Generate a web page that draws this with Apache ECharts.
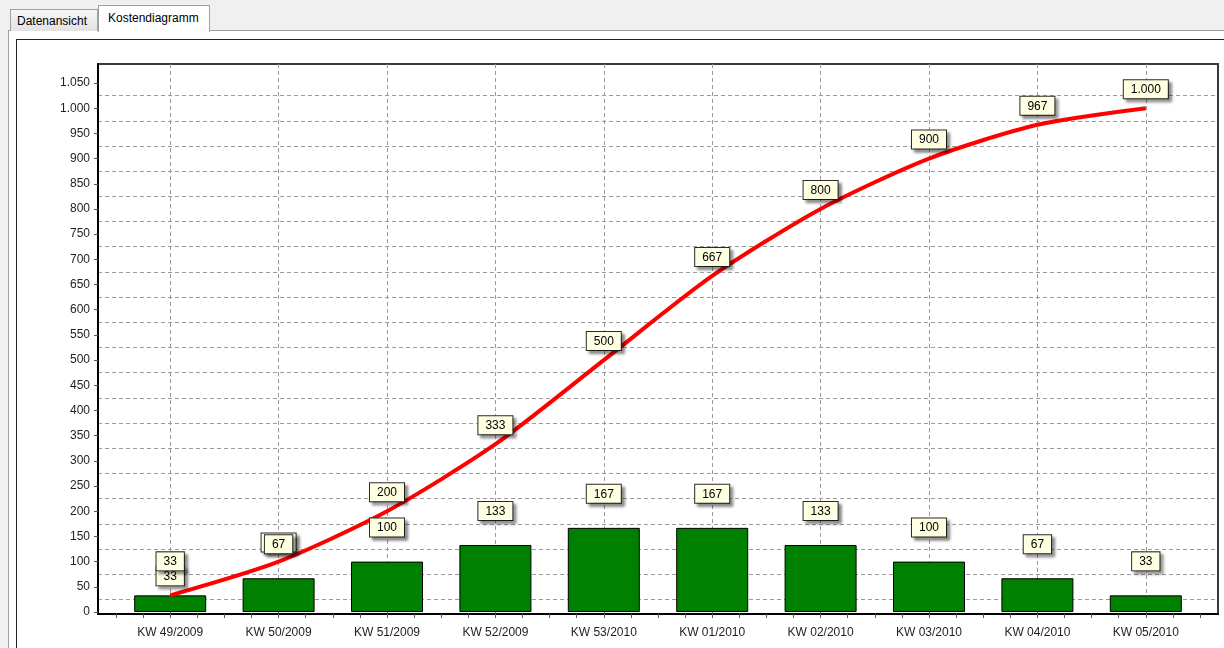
<!DOCTYPE html>
<html>
<head>
<meta charset="utf-8">
<script src="https://cdn.jsdelivr.net/npm/echarts@6/dist/echarts.min.js"></script>
<style>
  html, body { margin: 0; padding: 0; }
  #wrap { position: relative; width: 1224px; height: 648px; background: #f0f0f0; overflow: hidden; font-family: "Liberation Sans", Arial, sans-serif; }
  #panel { position: absolute; left: 8px; top: 30px; width: 1230px; height: 640px; background: #fff; border-left: 1px solid #a0a0a0; border-top: 1px solid #a0a0a0; }
  #inner { position: absolute; left: 16px; top: 39px; width: 1230px; height: 640px; background: #fff; border-left: 1px solid #222; border-top: 1px solid #222; }
  .tab { position: absolute; font-size: 12px; color: #000; box-sizing: border-box; border: 1px solid #a0a0a0; border-bottom: none; white-space: nowrap; }
  #tab1 { left: 10px; top: 9px; width: 88px; height: 22px; background: linear-gradient(#f6f6f6, #e2e2e2); padding: 4px 0 0 6px; }
  #tab2 { left: 98px; top: 5px; width: 112px; height: 27px; background: #fff; padding: 5px 0 0 9px; z-index: 2; }
  #chart { position: absolute; left: 0; top: 0; width: 1224px; height: 648px; z-index: 3; }
</style>
</head>
<body>
<div id="wrap">
  <div id="panel"></div>
  <div id="inner"></div>
  <div class="tab" id="tab1">Datenansicht</div>
  <div class="tab" id="tab2">Kostendiagramm</div>
  <div id="chart"></div>
</div>
<script>
// ---- data ----
const categories = ['KW 49/2009', 'KW 50/2009', 'KW 51/2009', 'KW 52/2009', 'KW 53/2010',
                    'KW 01/2010', 'KW 02/2010', 'KW 03/2010', 'KW 04/2010', 'KW 05/2010'];
const weeklyCosts = [33, 67, 100, 133, 167, 167, 133, 100, 67, 33];
const cumulativeCosts = [33, 100, 200, 333, 500, 667, 800, 900, 967, 1000];
const yAxisMin = 0;
const yAxisMax = 1050;
const yAxisStep = 50;

// ---- layout ----
const FRAME = { left: 98, right: 1218, top: 64, bottom: 614 };
const Y_ZERO_PX = 612, Y_TOP_PX = 83; // pixel of yAxisMin / yAxisMax
const DATA_LEFT = 116, DATA_RIGHT = 1200;
const W = 1224, H = 648;
const pxPerUnit = (Y_ZERO_PX - Y_TOP_PX) / (yAxisMax - yAxisMin);
const dataMin = yAxisMin - (FRAME.bottom - Y_ZERO_PX) / pxPerUnit;
const dataMax = yAxisMax + (Y_TOP_PX - FRAME.top) / pxPerUnit;

const FONT = '"Liberation Sans", Arial, sans-serif';
const fmt = v => String(Math.round(v)).replace(/\B(?=(\d{3})+(?!\d))/g, '.');

const boxLabel = (dist) => ({
  show: true,
  position: 'top',
  distance: dist,
  fontFamily: FONT,
  fontSize: 12,
  lineHeight: 13,
  color: '#000',
  opacity: 1,
  backgroundColor: '#ffffe1',
  borderColor: '#2a2a2a',
  borderWidth: 1,
  padding: [3, 7, 2, 7],
  shadowColor: 'rgba(0,0,0,0.45)',
  shadowBlur: 3,
  shadowOffsetX: 3,
  shadowOffsetY: 3,
  formatter: p => fmt(Array.isArray(p.value) ? p.value[1] : p.value)
});

const gridDash = { color: '#9a9a9a', type: [4, 3], width: 1 };

const chart = echarts.init(document.getElementById('chart'), null, { renderer: 'canvas' });
chart.setOption({
  animation: false,
  backgroundColor: 'transparent',
  grid: [
    { left: FRAME.left, right: W - FRAME.right, top: FRAME.top, bottom: H - FRAME.bottom,
      show: true, backgroundColor: '#fff', borderColor: '#3a3a3a', borderWidth: 2 },
    { left: FRAME.left, right: W - FRAME.right, top: Y_TOP_PX, bottom: H - Y_ZERO_PX },
    { left: DATA_LEFT, right: W - DATA_RIGHT, top: FRAME.top, bottom: H - FRAME.bottom }
  ],
  xAxis: [
    { gridIndex: 0, type: 'value', min: 0, max: 1, position: 'bottom',
      axisLine: { show: true, onZero: false, lineStyle: { color: '#000', width: 2 } },
      axisTick: { show: false }, axisLabel: { show: false }, splitLine: { show: false } },
    { gridIndex: 1, type: 'value', min: 0, max: 1, show: false },
    { gridIndex: 2, type: 'category', data: categories, boundaryGap: true, position: 'bottom',
      axisLine: { show: false },
      axisTick: { show: true, alignWithLabel: true, length: 6, lineStyle: { color: '#555' } },
      axisLabel: { margin: 13, fontFamily: FONT, fontSize: 12, color: '#1e1e1e' },
      splitLine: { show: true, alignWithLabel: true, lineStyle: gridDash } },
    { gridIndex: 2, type: 'value', min: 0, max: categories.length * 4, interval: 1,
      position: 'bottom', offset: 0,
      axisLine: { show: false, onZero: false },
      axisTick: { show: true, length: 4, lineStyle: { color: '#555' } },
      axisLabel: { show: false }, splitLine: { show: false } }
  ],
  yAxis: [
    { gridIndex: 0, type: 'value', min: 0, max: 1, position: 'left',
      axisLine: { show: true, onZero: false, lineStyle: { color: '#000', width: 2 } },
      axisTick: { show: false }, axisLabel: { show: false }, splitLine: { show: false } },
    { gridIndex: 1, type: 'value', min: yAxisMin, max: yAxisMax, interval: yAxisStep, position: 'left',
      axisLine: { show: false },
      axisTick: { show: true, length: 4, lineStyle: { color: '#555' } },
      axisLabel: { margin: 8, fontFamily: FONT, fontSize: 12, color: '#1e1e1e', formatter: v => fmt(v) },
      splitLine: { show: false },
      minorTick: { show: false, splitNumber: 2 },
      minorSplitLine: { show: true, lineStyle: gridDash } },
    { gridIndex: 2, type: 'value', min: dataMin, max: dataMax, show: false }
  ],
  series: [
    { type: 'bar', name: 'Kosten pro Woche', xAxisIndex: 2, yAxisIndex: 2,
      data: weeklyCosts, barWidth: 72, z: 2, silent: true,
      itemStyle: { color: '#008000', borderColor: '#000', borderWidth: 1 } },
    { type: 'line', name: 'Kumulierte Kosten', xAxisIndex: 2, yAxisIndex: 2,
      data: cumulativeCosts, smooth: 0.25, z: 3, silent: true,
      symbol: 'circle', symbolSize: 2, showSymbol: true,
      itemStyle: { color: 'rgba(0,0,0,0)', borderWidth: 0 },
      lineStyle: { color: '#ff0000', width: 4 },
      label: boxLabel(9) },
    { type: 'line', name: 'Wochenlabels', xAxisIndex: 2, yAxisIndex: 2,
      data: weeklyCosts, z: 4, silent: true,
      symbol: 'circle', symbolSize: 2, showSymbol: true,
      itemStyle: { color: 'rgba(0,0,0,0)', borderWidth: 0 },
      lineStyle: { width: 0, opacity: 0 },
      label: boxLabel(24) }
  ]
});
</script>
</body>
</html>
